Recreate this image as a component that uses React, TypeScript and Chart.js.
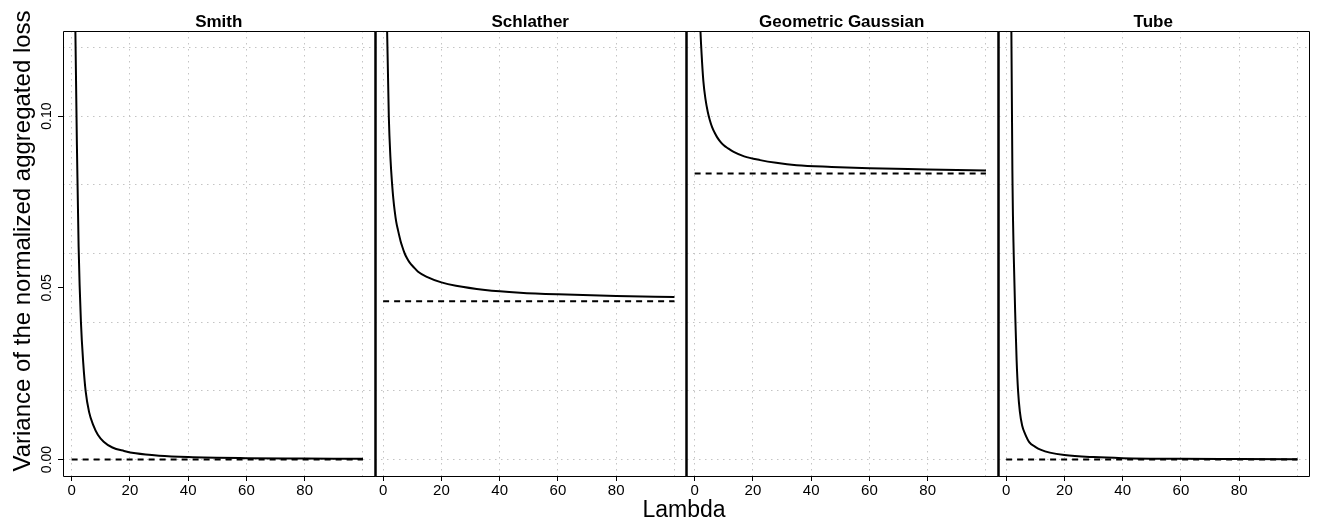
import React, { useEffect, useRef } from "react";
import { Chart, registerables } from "chart.js";

Chart.register(...registerables);

// ---- data ----
const panelTitles = ["Smith", "Schlather", "Geometric Gaussian", "Tube"];

const smithLambda = [1, 1.3, 2, 2.4, 3.2, 4, 4.8, 6, 7.5, 9, 11, 14, 18, 22, 30, 40, 60, 80, 100];
const smithVariance = [0.16, 0.124, 0.082, 0.062, 0.04, 0.028, 0.02, 0.0138, 0.0099, 0.0072, 0.0052, 0.0035, 0.0025, 0.0018, 0.0011, 0.0007, 0.0004, 0.0003, 0.0002];

const schlatherLambda = [1, 1.37, 1.95, 2.5, 3.1, 3.5, 4, 4.5, 5.1, 6, 6.5, 7.4, 8.2, 9, 10.5, 12, 15, 20, 25, 35, 47, 60, 80, 100];
const schlatherVariance = [0.15, 0.1248, 0.1, 0.088, 0.08, 0.076, 0.0722, 0.0692, 0.0668, 0.0636, 0.0622, 0.06, 0.0586, 0.0575, 0.056, 0.0547, 0.0532, 0.0516, 0.0506, 0.0494, 0.0486, 0.0481, 0.0476, 0.0473];

const gaussLambda = [1, 1.5, 2, 2.4, 3, 3.7, 4.5, 5.2, 6, 6.8, 7.7, 8.8, 10, 11.5, 13.4, 17, 22.5, 28, 35, 47, 60, 80, 100];
const gaussVariance = [0.165, 0.137, 0.1248, 0.118, 0.1102, 0.1051, 0.1013, 0.0989, 0.0968, 0.0953, 0.0939, 0.0926, 0.0915, 0.0906, 0.0896, 0.0883, 0.0872, 0.0864, 0.0857, 0.0852, 0.0848, 0.0845, 0.0842];

const tubeLambda = [1, 1.8, 2.2, 2.6, 3.2, 3.6, 4.1, 4.7, 5.5, 6.5, 8, 10, 12, 15, 20, 30, 40, 60, 80, 100];
const tubeVariance = [0.35, 0.125, 0.08, 0.06, 0.04, 0.029, 0.02, 0.014, 0.0099, 0.0075, 0.005, 0.0037, 0.0028, 0.002, 0.0013, 0.0007, 0.0004, 0.0002, 0.00015, 0.0001];

const limitLambda = [0, 100];
const limitValues = [0, 0.0461, 0.0833, 0];

const xTickValues = [0, 20, 40, 60, 80, 100];
const xTickLabels = ["0", "20", "40", "60", "80", ""];
const yTickValues = [0, 0.02, 0.04, 0.05, 0.06, 0.08, 0.1, 0.12];
const yTickLabels = ["0.00", "", "", "0.05", "", "", "0.10", ""];

const xTitle = "Lambda";
const yTitle = "Variance of the normalized aggregated loss";

const FONT = "'Liberation Sans', Arial, Helvetica, sans-serif";
const GRID = "#c4c4c4";
const CLEAR = "rgba(0,0,0,0)";

const isGridValue = (v: number) => Math.abs(v / 0.02 - Math.round(v / 0.02)) < 1e-6;

const framePlugin = {
  id: "panelFrames",
  afterDraw(chart: any) {
    const { ctx, chartArea } = chart;
    const top = Math.round(chartArea.top) + 0.5;
    const bottom = Math.round(chartArea.bottom) + 0.5;
    ctx.save();
    ctx.strokeStyle = "#000";
    for (let i = 0; i < panelTitles.length; i++) {
      const s = chart.scales["x" + i];
      const l = Math.round(s.left) + 0.5;
      const r = Math.round(s.right) + 0.5;
      ctx.lineWidth = 1;
      ctx.beginPath();
      ctx.moveTo(l, top);
      ctx.lineTo(r, top);
      ctx.moveTo(l, bottom);
      ctx.lineTo(r, bottom);
      ctx.stroke();
      ctx.lineWidth = i === 0 ? 1 : 2;
      ctx.beginPath();
      ctx.moveTo(l, top);
      ctx.lineTo(l, bottom);
      ctx.stroke();
      ctx.lineWidth = i === panelTitles.length - 1 ? 1 : 2;
      ctx.beginPath();
      ctx.moveTo(r, top);
      ctx.lineTo(r, bottom);
      ctx.stroke();
      // panel title
      ctx.fillStyle = "#000";
      ctx.font = "bold 17px " + FONT;
      ctx.textAlign = "center";
      ctx.textBaseline = "alphabetic";
      ctx.fillText(panelTitles[i], (s.left + s.right) / 2, 27);
    }
    // axis titles
    ctx.fillStyle = "#000";
    ctx.textAlign = "center";
    ctx.textBaseline = "alphabetic";
    ctx.font = "23px " + FONT;
    ctx.fillText(xTitle, (chartArea.left + chartArea.right) / 2 - 2, 517);
    ctx.font = "24px " + FONT;
    ctx.save();
    ctx.translate(29.5, 241);
    ctx.rotate(-Math.PI / 2);
    ctx.fillText(yTitle, 0, 0);
    ctx.restore();
    ctx.restore();
  },
};

export default function App() {
  const canvasRef = useRef<HTMLCanvasElement | null>(null);

  useEffect(() => {
    const canvas = canvasRef.current;
    if (!canvas) return;

    const series = [
      [smithLambda, smithVariance],
      [schlatherLambda, schlatherVariance],
      [gaussLambda, gaussVariance],
      [tubeLambda, tubeVariance],
    ];

    const datasets: any[] = [];
    const scales: any = {};

    series.forEach(([lx, vy], i) => {
      datasets.push({
        label: panelTitles[i],
        data: lx.map((x, j) => ({ x, y: vy[j] })),
        xAxisID: "x" + i,
        yAxisID: "y",
        borderColor: "#000",
        borderWidth: 2,
        pointRadius: 0,
        fill: false,
        cubicInterpolationMode: "monotone",
      });
      datasets.push({
        label: panelTitles[i] + " limit",
        data: limitLambda.map((x) => ({ x, y: limitValues[i] })),
        xAxisID: "x" + i,
        yAxisID: "y",
        borderColor: "#000",
        borderWidth: 2,
        borderDash: [6, 5],
        pointRadius: 0,
        fill: false,
      });
      scales["x" + i] = {
        type: "linear",
        position: "bottom",
        stack: "panels",
        stackWeight: 1,
        min: -2.96,
        max: 103.96,
        afterBuildTicks: (scale: any) => {
          scale.ticks = xTickValues.map((v) => ({ value: v }));
        },
        afterFit: (scale: any) => {
          scale.height = 48;
        },
        border: { display: false, dash: [1.5, 4.5] },
        grid: {
          color: GRID,
          lineWidth: 1,
          drawTicks: true,
          tickLength: 5,
          tickWidth: 1,
          tickColor: (ctx: any) => (ctx.index < xTickLabels.length && xTickLabels[ctx.index] !== "" ? "#000" : CLEAR),
        },
        ticks: {
          autoSkip: false,
          maxRotation: 0,
          minRotation: 0,
          padding: 1,
          color: "#000",
          font: { family: FONT, size: 15 },
          callback: (_v: any, idx: number) => xTickLabels[idx],
        },
      };
    });

    scales.y = {
      type: "linear",
      position: "left",
      min: -0.0048,
      max: 0.1248,
      afterBuildTicks: (scale: any) => {
        scale.ticks = yTickValues.map((v) => ({ value: v }));
      },
      afterFit: (scale: any) => {
        scale.width = 63;
      },
      border: { display: false, dash: [1.5, 4.5] },
      grid: {
        color: (ctx: any) => (ctx.tick && isGridValue(ctx.tick.value) ? GRID : CLEAR),
        lineWidth: 1,
        drawTicks: true,
        tickLength: 5,
        tickWidth: 1,
        tickColor: (ctx: any) => (yTickLabels[ctx.index] ? "#000" : CLEAR),
      },
      ticks: {
        autoSkip: false,
        minRotation: 90,
        maxRotation: 90,
        crossAlign: "center",
        padding: -3,
        color: "#000",
        font: { family: FONT, size: 14 },
        callback: (_v: any, idx: number) => yTickLabels[idx],
      },
    };

    const chart = new Chart(canvas, {
      type: "line",
      data: { datasets },
      options: {
        responsive: false,
        animation: false,
        devicePixelRatio: 1,
        layout: { padding: { top: 31, right: 11, bottom: 0, left: 0 } },
        plugins: {
          legend: { display: false },
          tooltip: { enabled: false },
          title: { display: false },
        },
        scales,
      },
      plugins: [framePlugin],
    } as any);

    return () => chart.destroy();
  }, []);

  return (
    <div style={{ position: "absolute", left: 0, top: 0, width: 1320, height: 524, background: "#fff" }}>
      <canvas ref={canvasRef} width={1320} height={524} style={{ display: "block", width: 1320, height: 524 }} />
    </div>
  );
}
